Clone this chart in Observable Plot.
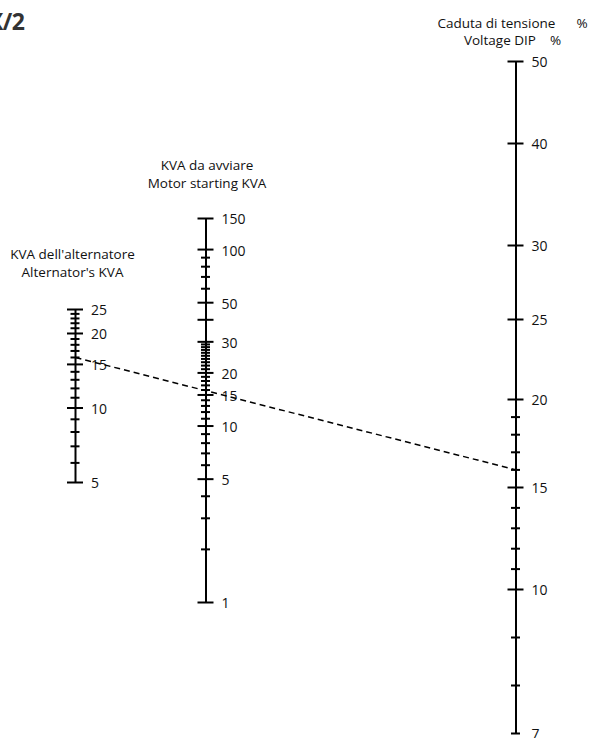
<!DOCTYPE html>
<html><head><meta charset="utf-8">
<script src="https://cdn.jsdelivr.net/npm/d3@7"></script>
<script src="https://cdn.jsdelivr.net/npm/@observablehq/plot@0.6"></script>
<style>
html,body{margin:0;padding:0;background:#fff;overflow:hidden}
#chart{position:relative;width:590px;height:738px;overflow:hidden}
#chart svg{position:absolute;left:0;top:0;margin:0;background:transparent}
#corner{position:absolute;left:-12px;top:5px;font:bold 23px "Liberation Sans Narrow","Open Sans",sans-serif;color:#333;letter-spacing:-0.5px}
</style></head><body><div id="chart"><div id="corner">X/2</div></div>
<script>
// ---------------- data ----------------
const altTitle = "KVA dell'alternatore\nAlternator's KVA";
const altLabels = [25, 20, 15, 10, 5];
const altMinor = [24, 23, 22, 21, 19, 18, 17, 16, 14, 13, 12, 11, 9, 8, 7, 6];

const motorTitle = "KVA da avviare\nMotor starting KVA";
const motorLabels = [150, 100, 50, 30, 20, 15, 10, 5, 1];
const motorMajorExtra = [40];
const motorMinor = [90, 80, 70, 60, 29, 28, 27, 26, 25, 24, 23, 22, 21, 19, 18, 17, 16, 14, 13, 12, 11, 9, 8, 7, 6, 4, 3, 2];

const dipTitle = "Caduta di tensione\u00a0\u00a0\u00a0\u00a0\u00a0\u00a0%\nVoltage DIP\u00a0\u00a0\u00a0\u00a0%";
const dipLabels = [50, 40, 30, 25, 20, 15, 10, 7];
const dipMinor = [19, 18, 17, 16, 14, 13, 12, 11, 9, 8];

// worked example drawn as the dashed line (alternator KVA -> voltage dip %)
const exampleAlt = [16];
const exampleDip = [16];

// ---------------- layout ----------------
const W = 590, H = 738;
const FONT = "'Open Sans', sans-serif";
const axisX = {alt: 75, motor: 205.5, dip: 515.5};
const altRange = [482, 309];          // 5 -> 25 (log)
const motorRange = [602, 218];        // 1 -> 150 (log)
const dipRange = [61, 143, 245, 319, 399, 487, 589, 733]; // hand-drawn dip scale
const majorHalf = 8, minorHalf = 4.5;

const chart = document.getElementById("chart");

function axisFigure({x, yScale, lo, hi, labels, majors, minors, title, titleY, titleDx}) {
  return Plot.plot({
    width: W, height: H,
    marginTop: 0, marginRight: 0, marginBottom: 0, marginLeft: 0,
    x: {domain: [0, W], range: [0, W], axis: null},
    y: {...yScale, axis: null},
    style: {background: "transparent", fontFamily: FONT, color: "#111"},
    marks: [
      Plot.ruleX([x], {x: d => d, y1: lo, y2: hi, stroke: "#000", strokeWidth: 2}),
      Plot.ruleY(majors, {y: d => d, x1: x - majorHalf, x2: x + majorHalf, stroke: "#000", strokeWidth: 2}),
      Plot.ruleY(minors, {y: d => d, x1: x - minorHalf, x2: x + minorHalf, stroke: "#000", strokeWidth: 2}),
      Plot.text(labels, {x: x, y: d => d, text: d => String(d), textAnchor: "start", dx: 15.5, dy: 1.5, fontSize: 14, fill: "#111"}),
      Plot.text([title], {x: x, frameAnchor: "top", text: d => d, dy: titleY, dx: titleDx, lineAnchor: "top", textAnchor: "middle", lineHeight: 1.32, fontSize: 13.5, fill: "#111"})
    ]
  });
}

const altFig = axisFigure({
  x: axisX.alt,
  yScale: {type: "log", domain: [5, 25], range: altRange},
  lo: 5, hi: 25,
  labels: altLabels, majors: altLabels, minors: altMinor,
  title: altTitle, titleY: 246, titleDx: -3
});

const motorFig = axisFigure({
  x: axisX.motor,
  yScale: {type: "log", domain: [1, 150], range: motorRange},
  lo: 1, hi: 150,
  labels: motorLabels, majors: motorLabels.concat(motorMajorExtra), minors: motorMinor,
  title: motorTitle, titleY: 157, titleDx: 1
});

const dipFig = axisFigure({
  x: axisX.dip,
  yScale: {type: "linear", domain: dipLabels, range: dipRange},
  lo: 7, hi: 50,
  labels: dipLabels, majors: dipLabels.filter(d => d !== 7), minors: dipMinor.concat([7]),
  title: dipTitle, titleY: 14.5, titleDx: -3.5
});

const altY = altFig.scale("y");
const dipY = dipFig.scale("y");

const lineFig = Plot.plot({
  width: W, height: H,
  marginTop: 0, marginRight: 0, marginBottom: 0, marginLeft: 0,
  x: {domain: [0, W], range: [0, W], axis: null},
  y: {domain: [0, H], range: [0, H], axis: null},
  style: {background: "transparent"},
  marks: [
    Plot.link(exampleAlt.map((a, i) => ({a, d: exampleDip[i]})), {
      x1: axisX.alt, y1: r => altY.apply(r.a),
      x2: axisX.dip, y2: r => dipY.apply(r.d),
      stroke: "#000", strokeWidth: 1.5, strokeDasharray: "6,4"
    })
  ]
});

[altFig, motorFig, dipFig, lineFig].forEach(f => chart.appendChild(f));
</script></body></html>
